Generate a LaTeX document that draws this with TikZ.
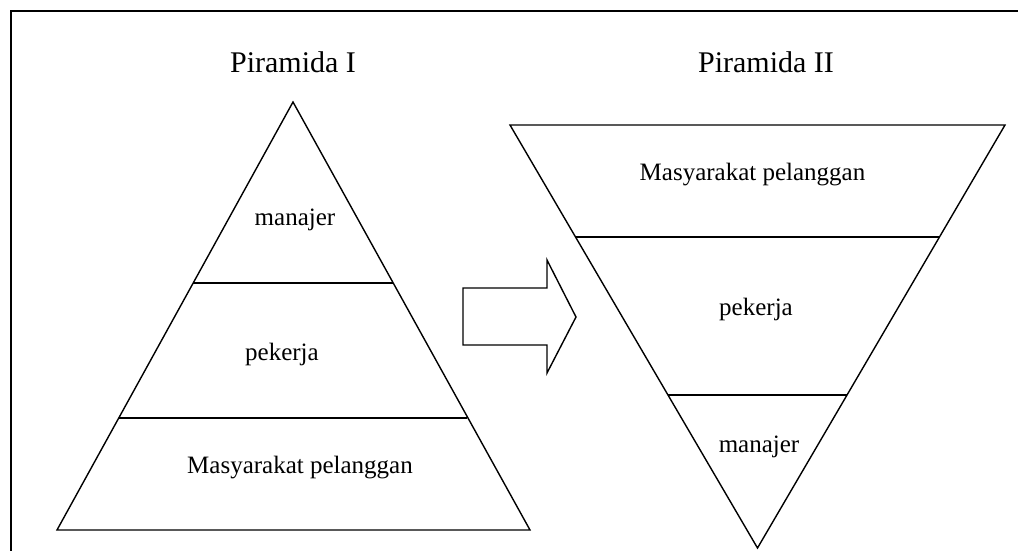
\documentclass[tikz,border=0pt]{standalone}
\usepackage{fontspec}
\setmainfont{Liberation Serif}
\begin{document}
\begin{tikzpicture}[x=1pt,y=-1pt,
  shape line/.style={line width=1.4pt,line join=miter},
  frame line/.style={line width=2.2pt},
  title/.style={font=\fontsize{30}{36}\selectfont,anchor=base,inner sep=0pt},
  label/.style={font=\fontsize{25}{30}\selectfont,anchor=base,inner sep=0pt}]
\useasboundingbox (0,0) rectangle (1018,550);
% frame
\draw[frame line] (11,560) -- (11,11) -- (1030,11);
% titles
\node[title] (t1) at (293,72) {Piramida I};
\node[title] (t2) at (766,72) {Piramida II};
% pyramid I
\coordinate (a1) at (293,102);
\coordinate (b1l) at (57,530);
\coordinate (b1r) at (530,530);
\draw[shape line] (a1) -- (b1r) -- (b1l) -- cycle;
\coordinate (l1a) at (193.2,283);
\coordinate (l1b) at (392.8,283);
\coordinate (l2a) at (118.8,418);
\coordinate (l2b) at (467.2,418);
\draw[shape line] (l1a) -- (l1b);
\draw[shape line] (l2a) -- (l2b);
\node[label] (m1) at (295,225) {manajer};
\node[label] (p1) at (282,360) {pekerja};
\node[label] (c1) at (300,473) {Masyarakat pelanggan};
% arrow
\draw[shape line] (463,288) -- (547,288) -- (547,260) -- (576,317) -- (547,373) -- (547,345) -- (463,345) -- cycle;
% pyramid II
\coordinate (a2) at (757.5,548);
\coordinate (t2l) at (510,125);
\coordinate (t2r) at (1005,125);
\draw[shape line] (t2l) -- (t2r) -- (a2) -- cycle;
\coordinate (k1a) at (575.6,237);
\coordinate (k1b) at (939.4,237);
\coordinate (k2a) at (668.0,395);
\coordinate (k2b) at (847.0,395);
\draw[shape line] (k1a) -- (k1b);
\draw[shape line] (k2a) -- (k2b);
\node[label] (c2) at (752.5,180) {Masyarakat pelanggan};
\node[label] (p2) at (756,315) {pekerja};
\node[label] (m2) at (759,452) {manajer};
\end{tikzpicture}
\end{document}
